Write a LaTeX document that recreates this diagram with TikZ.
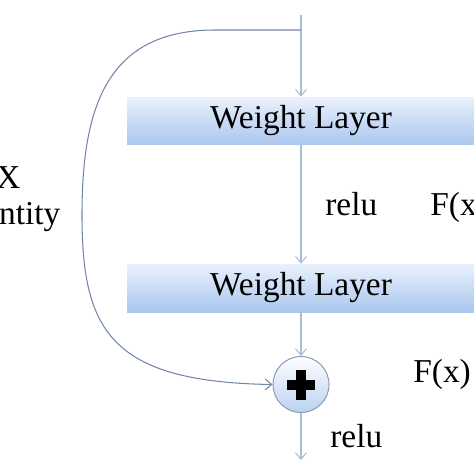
\documentclass[tikz,border=0pt]{standalone}
\usepackage{fontspec}
\setmainfont{LiberationSerif}[Extension=.ttf,UprightFont=*-Regular,BoldFont=*-Bold]
\usepackage{tikz}
\usetikzlibrary{arrows.meta}

\definecolor{lineblue}{HTML}{A9BCD6}
\definecolor{skipblue}{HTML}{7385A8}
\definecolor{boxtop}{HTML}{EAF1FC}
\definecolor{boxbot}{HTML}{A9C6EE}

\begin{document}
\begin{tikzpicture}[x=0.02cm,y=-0.02cm,
  layer/.style={minimum width=6.96cm,minimum height=0.96cm,top color=boxtop,bottom color=boxbot,inner sep=0pt},
  addop/.style={circle,draw=skipblue!80,line width=0.6pt,minimum size=1.12cm,top color=white,bottom color=boxbot!80,inner sep=0pt},
  lbl/.style={font=\fontsize{19}{20.5}\selectfont},
  arr/.style={draw=lineblue,line width=0.6pt,-{Straight Barb[length=1.3mm,width=2.2mm]}},
  skip/.style={draw=skipblue,line width=0.6pt,-{Straight Barb[length=1.3mm,width=2.2mm]}}]
  \useasboundingbox (0,0) rectangle (474,474);
  \clip (0,0) rectangle (474,474);
  \coordinate (in) at (301,15);
  \coordinate (split) at (301,30);
  \node[layer,lbl] (wl1) at (301,121) {Weight Layer};
  \node[layer,lbl] (wl2) at (301,288) {Weight Layer};
  \node[addop] (add) at (301,384.5) {};
  \coordinate (out) at (301,460);
  \draw[arr] (in) -- (wl1);
  \draw[arr] (wl1) -- (wl2);
  \draw[arr] (wl2) -- (add);
  \draw[arr] (add) -- (out);
  \draw[skip] (split) -- (215,30) .. controls (105,30) and (82,110) .. (82,215)
    .. controls (82,330) and (110,382) .. (add.west);
  % plus sign
  \fill (add.center) +(-14,-5) rectangle +(14,5);
  \fill (add.center) +(-5,-15) rectangle +(5,15);
  \node[lbl,anchor=base west,inner sep=0pt] (relu1) at (325,215) {relu};
  \node[lbl,anchor=base west,inner sep=0pt] (fx1) at (430,215) {F(x)};
  \node[lbl,anchor=base west,inner sep=0pt] (fx2) at (413,382) {F(x)};
  \node[lbl,anchor=base west,inner sep=0pt] (relu2) at (330,447) {relu};
  \node[lbl,align=center,anchor=north,inner sep=0pt] (ident) at (8.5,166) {X\\Identity};
\end{tikzpicture}
\end{document}
